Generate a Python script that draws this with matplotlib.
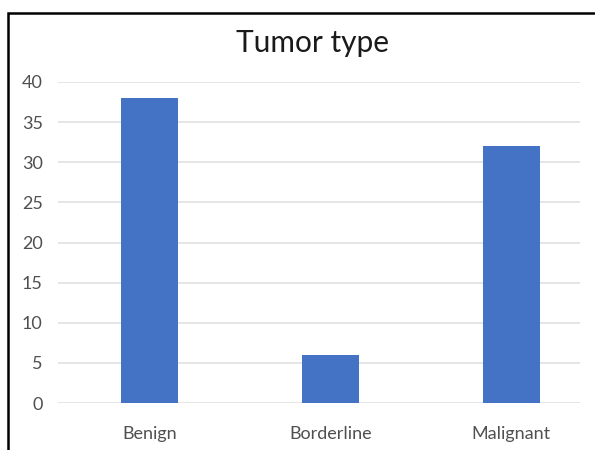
import matplotlib.pyplot as plt
from matplotlib.patches import Rectangle

categories = ['Benign', 'Borderline', 'Malignant']
counts = [38, 6, 32]
yticks = [0, 5, 10, 15, 20, 25, 30, 35, 40]

plt.rcParams['font.family'] = ['Lato', 'DejaVu Sans']

fig = plt.figure(figsize=(5.95, 4.5), dpi=100)
ax = fig.add_axes([58 / 595, 1 - 403 / 450, (580 - 58) / 595, (403 - 82) / 450])

x = range(len(categories))
ax.bar(x, counts, width=0.315, color='#4472C4', zorder=3)

ax.set_ylim(0, 40)
ax.set_xlim(-0.505, 2.38)
ax.set_yticks(yticks)
ax.set_xticks(list(x))
ax.set_xticklabels(categories)
ax.yaxis.grid(True, color='#e0e0e0', linewidth=1.2, zorder=0)
ax.set_axisbelow(True)
for s in ax.spines.values():
    s.set_visible(False)
ax.tick_params(axis='both', length=0, labelsize=13, labelcolor='#505050')
ax.tick_params(axis='x', pad=16.5)
ax.tick_params(axis='y', pad=11)

fig.text(313 / 595, 1 - 52 / 450, 'Tumor type', ha='center', va='baseline',
         fontsize=21.5, color='#1a1a1a')

# chart border (cut off at right and bottom in the reference)
fig.patches.append(Rectangle((8 / 595, -0.2), 1.5, 1.2 - 13 / 450,
                             transform=fig.transFigure, fill=False,
                             edgecolor='black', linewidth=1.8))

fig.savefig('out.png', dpi=100)
